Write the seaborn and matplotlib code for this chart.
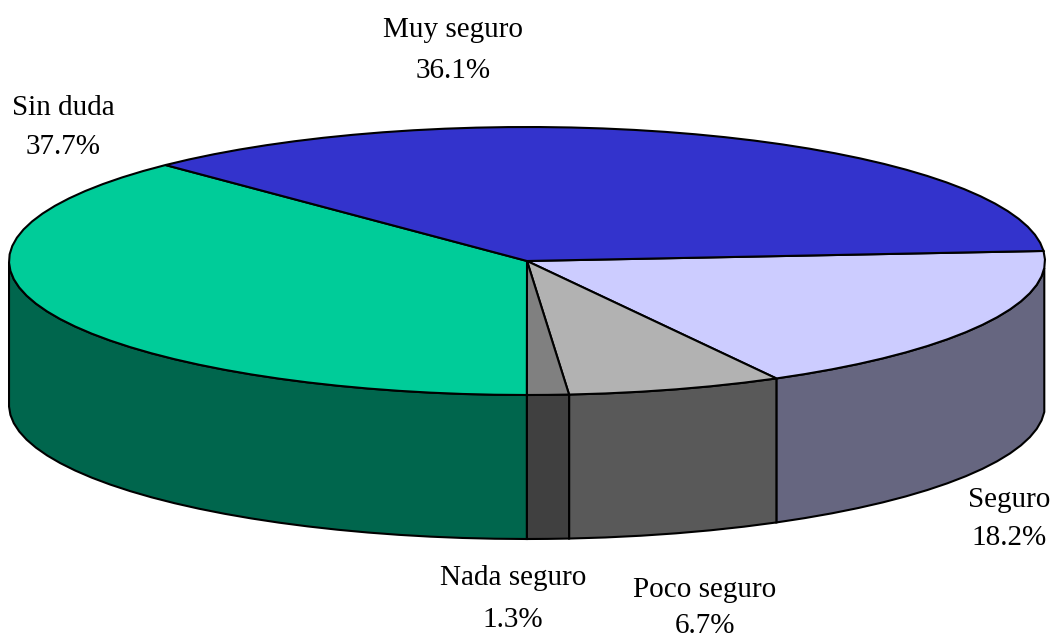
import numpy as np
import seaborn as sns
import matplotlib.pyplot as plt

labels = ['Seguro', 'Poco seguro', 'Nada seguro', 'Sin duda', 'Muy seguro']
values = [18.2, 6.7, 1.3, 37.7, 36.1]
top_colors = ['#CCCCFF', '#B2B2B2', '#808080', '#00CC99', '#3333CC']
side_colors = ['#666680', '#595959', '#404040', '#00664D', '#1A1A66']

sns.set_theme(style='white')
plt.rcParams['font.family'] = ['Liberation Serif', 'DejaVu Serif']

cx, cy = 527, 261
rx, ry = 518, 134
depth = 144
fontsize = 21


def rim(a0, a1):
    # coarse steps, the outline of the original is a bit faceted
    n = max(int(abs(a1 - a0) / 3.5), 2) + 1
    t = np.radians(np.linspace(a0, a1, n))
    return cx + rx * np.cos(t), cy - ry * np.sin(t)


fig, ax = plt.subplots(figsize=(10.53, 6.39), dpi=100)
fig.subplots_adjust(0, 0, 1, 1)
ax.set_xlim(0, 1053)
ax.set_ylim(639, 0)
ax.axis('off')

# slices go clockwise, the first starts where Muy seguro ends
edges = 4.3 - np.cumsum([0] + values) * 3.6
for i in range(len(values)):
    x, y = rim(edges[i], edges[i + 1])
    # side wall, only the part facing the viewer
    front = y >= cy
    if front.any():
        xf, yf = x[front], y[front]
        ax.fill(np.r_[xf, xf[::-1]], np.r_[yf, yf[::-1] + depth],
                facecolor=side_colors[i], edgecolor='black', lw=1.5, zorder=2)
    ax.fill(np.r_[cx, x], np.r_[cy, y], facecolor=top_colors[i],
            edgecolor='black', lw=1.5, zorder=3)

label_x = [1009, 705, 513, 63, 453]
name_y = [500, 590, 578, 108, 30]
pct_y = [538, 626, 620, 147, 71]
for name, v, lx, ny, py in zip(labels, values, label_x, name_y, pct_y):
    ax.text(lx, ny, name, ha='center', va='center', fontsize=fontsize, color='black')
    ax.text(lx, py, f'{v}%', ha='center', va='center', fontsize=fontsize, color='black')

fig.savefig('out.png', dpi=100)
